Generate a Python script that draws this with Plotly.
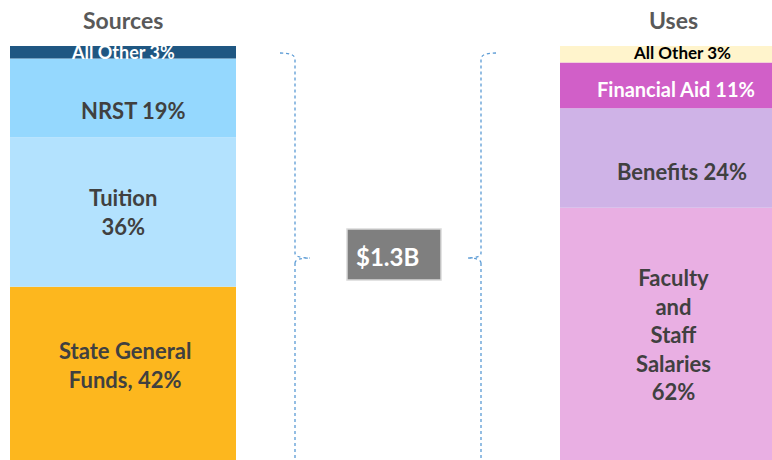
import plotly.graph_objects as go

# ---- data ----
columns = ["Sources", "Uses"]
source_labels = ["State General<br>Funds, 42%", "Tuition<br>36%", "NRST 19%", "All Other 3%"]
source_values = [42, 36, 19, 3]
use_labels = ["Faculty<br>and<br>Staff<br>Salaries<br>62%", "Benefits 24%", "Financial Aid 11%", "All Other 3%"]
use_values = [61, 24, 11, 4]
total_label = "$1.3B"

# ---- styles ----
source_colors = ["#FDB71E", "#B3E2FE", "#95D8FE", "#1F5782"]
use_colors = ["#E9AFE3", "#CFB3E7", "#D15FC8", "#FFF4CC"]
source_text_colors = ["#404040", "#404040", "#404040", "#FFFFFF"]
use_text_colors = ["#404040", "#404040", "#FFFFFF", "#000000"]
source_font_sizes = [22, 22, 22, 18]
use_font_sizes = [22, 22, 20, 17]
source_shift = [(2, 9), (0, 0), (10, -13), (0, 0)]   # (xshift, yshift) px
use_shift = [(0, 0), (9, -13), (3, -4), (9, 2)]

W, H = 772, 460
T, B = 46, 0
FONT = "Lato"

fig = go.Figure()
bar_width = 226 / 550

def add_stack(col, vals, colors, labels, tcolors, sizes, shifts):
    base = 0
    for v, c, lab, tc, fs, (xs, ys) in zip(vals, colors, labels, tcolors, sizes, shifts):
        fig.add_trace(go.Bar(x=[col], y=[v], base=[base], marker=dict(color=c, line=dict(width=0)),
                             width=bar_width, showlegend=False, hoverinfo="skip"))
        fig.add_annotation(x=col, y=base + v / 2, text=lab, showarrow=False,
                           xshift=xs, yshift=ys,
                           font=dict(family=FONT, size=fs, color=tc, weight="bold"),
                           align="center")
        base += v

add_stack(columns[0], source_values, source_colors, source_labels, source_text_colors, source_font_sizes, source_shift)
add_stack(columns[1], use_values, use_colors, use_labels, use_text_colors, use_font_sizes, use_shift)

for col in columns:
    fig.add_annotation(x=col, y=1, xref="x", yref="paper", yanchor="bottom", yshift=10,
                       text=col, showarrow=False,
                       font=dict(family=FONT, size=23, color="#595959", weight="bold"))

ph = H - T - B
def px(x):
    return x / W
def py(y):
    return (H - B - y) / ph

brace_style = dict(color="#5B9BD5", width=1.3, dash="dot")

def brace(xv, xend_top, xmid, ytop, ymid, ybot):
    pts = [
        f"M {px(xend_top)},{py(ytop)}",
        f"Q {px(xv)},{py(ytop)} {px(xv)},{py(ytop + 6)}",
        f"L {px(xv)},{py(ymid - 5)}",
        f"Q {px(xv)},{py(ymid)} {px(xmid)},{py(ymid)}",
        f"M {px(xv)},{py(ymid + 5)}",
        f"Q {px(xv)},{py(ymid)} {px(xmid)},{py(ymid)}",
        f"M {px(xv)},{py(ymid + 5)}",
        f"L {px(xv)},{py(ybot)}",
    ]
    return " ".join(pts)

fig.add_shape(type="path", xref="paper", yref="paper",
              path=brace(295, 280, 310, 53, 258, 470), line=brace_style)
fig.add_shape(type="path", xref="paper", yref="paper",
              path=brace(481, 496, 467, 53, 258, 470), line=brace_style)

# total box
fig.add_shape(type="rect", xref="paper", yref="paper",
              x0=px(347), x1=px(441), y0=py(280), y1=py(229),
              fillcolor="#7F7F7F", line=dict(color="#D9D9D9", width=1.5))
fig.add_annotation(xref="paper", yref="paper", x=px(354), y=py(256), xanchor="left",
                   text=total_label, showarrow=False,
                   font=dict(family=FONT, size=24, color="#FFFFFF", weight="bold"))

fig.update_layout(
    width=W, height=H,
    margin=dict(l=0, r=0, t=T, b=B),
    barmode="overlay",
    plot_bgcolor="white", paper_bgcolor="white",
    xaxis=dict(type="category", range=[-123 / 550, 1 + 99 / 550], visible=False),
    yaxis=dict(range=[0.24, 100], visible=False),
)

fig.write_html("out.html", config={"displayModeBar": False},
               post_script="document.body.style.margin='0px';document.body.style.overflow='hidden';")
